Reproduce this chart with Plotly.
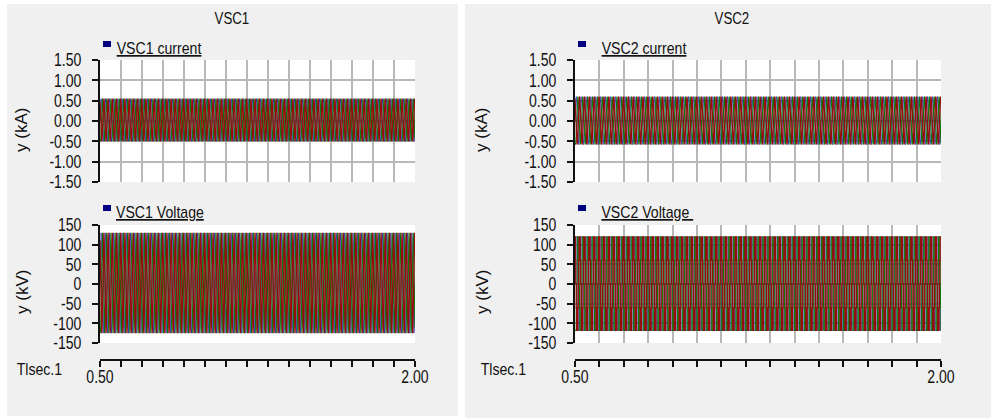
import numpy as np
import plotly.graph_objects as go

W, H = 991, 418

# ---------------- data ----------------
t_start, t_end = 0.5, 2.0
n_cycles = 75  # 50 Hz over 1.5 s

vsc1_current_a = [0.02, 0.29, 0.48, 0.55, 0.47, 0.26, -0.02, -0.28, -0.45, -0.50, -0.44, -0.25]
vsc1_current_b = [-0.45, -0.50, -0.44, -0.25, 0.02, 0.29, 0.48, 0.55, 0.47, 0.26, -0.02, -0.28]
vsc1_current_c = [0.47, 0.26, -0.02, -0.28, -0.45, -0.50, -0.44, -0.25, 0.02, 0.29, 0.48, 0.55]

vsc2_current_a = [0.00, 0.32, 0.55, 0.60, 0.55, 0.30, 0.00, -0.31, -0.54, -0.58, -0.53, -0.30]
vsc2_current_b = [-0.54, -0.58, -0.53, -0.30, 0.00, 0.32, 0.55, 0.60, 0.55, 0.30, 0.00, -0.31]
vsc2_current_c = [0.55, 0.30, 0.00, -0.31, -0.54, -0.58, -0.53, -0.30, 0.00, 0.32, 0.55, 0.60]

vsc1_voltage_a = [0, 65, 112, 130, 111, 63, 0, -63, -110, -125, -109, -62]
vsc1_voltage_b = [-110, -125, -109, -62, 0, 65, 112, 130, 111, 63, 0, -63]
vsc1_voltage_c = [111, 63, 0, -63, -110, -125, -109, -62, 0, 65, 112, 130]

vsc2_voltage_a = [0, 60, 120, 120, 120, 60, 0, -60, -118, -118, -118, -60]
vsc2_voltage_b = [-118, -118, -118, -60, 0, 60, 120, 120, 120, 60, 0, -60]
vsc2_voltage_c = [120, 60, 0, -60, -118, -118, -118, -60, 0, 60, 120, 120]

x_tick_values = [0.5, 0.6, 0.7, 0.8, 0.9, 1.0, 1.1, 1.2, 1.3, 1.4, 1.5, 1.6, 1.7, 1.8, 1.9, 2.0]
x_tick_labels = ["0.50"] + [""] * 14 + ["2.00"]
current_tick_values = [-1.5, -1.0, -0.5, 0.0, 0.5, 1.0, 1.5]
current_tick_labels = ["-1.50", "-1.00", "-0.50", "0.00", "0.50", "1.00", "1.50"]
voltage_tick_values = [-150, -100, -50, 0, 50, 100, 150]
voltage_tick_labels = ["-150", "-100", "-50", "0", "50", "100", "150"]

panel_titles = ["VSC1", "VSC2"]
legend_names = ["VSC1 current", "VSC1 Voltage", "VSC2 current", "VSC2 Voltage"]
time_label = "Tlsec.1"
current_unit = "y (kA)"
voltage_unit = "y (kV)"

# ---------------- helpers ----------------
def X(px):
    return px / W

def Y(py):
    return 1 - py / H

def wave(cycle):
    arr = np.tile(np.array(cycle, dtype=float), n_cycles)
    arr = np.append(arr, cycle[0])
    t = np.linspace(t_start, t_end, len(arr))
    return t, arr

FONT = "Liberation Sans, Arial, sans-serif"
BLUE, GREEN, RED = "#1818a0", "#0a7a0a", "#960c0c"
WIDTHS = [0.7, 1.1, 1.3]
GRID = "#b8b8b8"
PANEL = "#f0f0f0"
INK = "#111111"

fig = go.Figure()

plots = [
    ("x", "y", [vsc1_current_a, vsc1_current_b, vsc1_current_c], "linear"),
    ("x2", "y2", [vsc1_voltage_a, vsc1_voltage_b, vsc1_voltage_c], "linear"),
    ("x3", "y3", [vsc2_current_a, vsc2_current_b, vsc2_current_c], "linear"),
    ("x4", "y4", [vsc2_voltage_a, vsc2_voltage_b, vsc2_voltage_c], "hv"),
]
for xa, ya, phases, shape in plots:
    for cyc, col, lw in zip(phases, [BLUE, GREEN, RED], WIDTHS):
        t, v = wave(cyc)
        fig.add_trace(go.Scatter(x=t, y=v, mode="lines", xaxis=xa, yaxis=ya,
                                 line=dict(color=col, width=lw, shape=shape),
                                 showlegend=False, hoverinfo="skip"))

# geometry (pixels)
L_X = (100, 415)
R_X = (575, 941)
CUR_Y = (60, 182)
VOL_Y = (225, 343)
XAXIS_Y = 360

tickfont = dict(family=FONT, size=18, color=INK)

def xaxis_top(dom):
    return dict(domain=[X(dom[0]), X(dom[1])], range=[t_start, t_end],
                tickvals=x_tick_values, showticklabels=False, ticks="",
                showgrid=True, gridcolor=GRID, gridwidth=1.5, zeroline=False,
                showline=False, automargin=False)

def xaxis_bottom(dom, grid):
    return dict(domain=[X(dom[0]), X(dom[1])], range=[t_start, t_end],
                tickvals=x_tick_values, ticktext=x_tick_labels,
                ticks="outside", ticklen=6, tickwidth=1.5, tickcolor=INK,
                showline=True, linecolor=INK, linewidth=2,
                anchor="free", position=Y(XAXIS_Y),
                showgrid=grid, gridcolor=GRID, gridwidth=1.5, zeroline=False,
                tickfont=tickfont, tickangle=0, ticklabelstandoff=-6, automargin=False)

def yaxis(dom, anchor_x, rng, vals, labels, grid):
    return dict(domain=[Y(dom[1]), Y(dom[0])], range=rng, anchor=anchor_x,
                tickvals=vals, ticktext=labels, ticks="outside", ticklen=6,
                tickwidth=1.5, tickcolor=INK,
                showline=True, linecolor=INK, linewidth=2,
                showgrid=grid, gridcolor=GRID, gridwidth=1.5, zeroline=False,
                tickfont=tickfont, ticklabelstandoff=7, automargin=False)

fig.update_layout(
    width=W, height=H, margin=dict(l=0, r=0, t=0, b=0, autoexpand=False),
    paper_bgcolor=PANEL, plot_bgcolor="white",
    xaxis=xaxis_top(L_X),
    yaxis=yaxis(CUR_Y, "x", [-1.5, 1.5], current_tick_values, current_tick_labels, True),
    xaxis2=xaxis_bottom(L_X, False),
    yaxis2=yaxis(VOL_Y, "x2", [-150, 150], voltage_tick_values, voltage_tick_labels, False),
    xaxis3=xaxis_top(R_X),
    yaxis3=yaxis(CUR_Y, "x3", [-1.5, 1.5], current_tick_values, current_tick_labels, True),
    xaxis4=xaxis_bottom(R_X, True),
    yaxis4=yaxis(VOL_Y, "x4", [-150, 150], voltage_tick_values, voltage_tick_labels, True),
)

# white page margins / gap between the two panels
shapes = []
for x0, y0, x1, y1 in [(0, 0, 7, 418), (0, 0, 991, 4), (458, 0, 465, 418), (0, 416, 465, 418)]:
    shapes.append(dict(type="rect", xref="paper", yref="paper",
                       x0=X(x0), x1=X(x1), y0=Y(y1), y1=Y(y0),
                       fillcolor="white", line=dict(width=0), layer="below"))
# legend squares
for x0, y0 in [(103, 41), (103, 205), (578, 41), (578, 205)]:
    shapes.append(dict(type="rect", xref="paper", yref="paper",
                       x0=X(x0), x1=X(x0 + 8), y0=Y(y0 + 6), y1=Y(y0),
                       fillcolor="#000080", line=dict(width=0), layer="above"))
fig.update_layout(shapes=shapes)

ann = []
for txt, cx in zip(panel_titles, [232, 732]):
    ann.append(dict(text=txt, x=X(cx), y=Y(19), xref="paper", yref="paper",
                    xanchor="center", yanchor="middle", showarrow=False,
                    font=dict(family=FONT, size=16, color=INK)))
legend_pos = [(159, 48), (160, 212), (644, 48), (647, 212)]
for i, (txt, (lx, ly)) in enumerate(zip(legend_names, legend_pos)):
    shown = txt + ("\u00a0" if i == 3 else "")
    ann.append(dict(text="<u>" + shown + "</u>", x=X(lx), y=Y(ly), xref="paper", yref="paper",
                    xanchor="center", yanchor="middle", showarrow=False,
                    font=dict(family=FONT, size=17, color=INK)))
for txt, (cx, cy) in [(current_unit, (22, 130)), (voltage_unit, (22, 292)),
                      (current_unit, (482, 130)), (voltage_unit, (482, 292))]:
    ann.append(dict(text=txt, x=X(cx), y=Y(cy), xref="paper", yref="paper",
                    xanchor="center", yanchor="middle", showarrow=False, textangle=-90,
                    font=dict(family=FONT, size=17, color=INK)))
for cx in [39, 503]:
    ann.append(dict(text=time_label, x=X(cx), y=Y(369), xref="paper", yref="paper",
                    xanchor="center", yanchor="middle", showarrow=False,
                    font=dict(family=FONT, size=17, color=INK)))
fig.update_layout(annotations=ann)

# condense the text horizontally (narrow typeface look) while keeping it as real text
post = """
var gd = document.getElementById('{plot_id}');
function condense(sel, f){
  gd.querySelectorAll(sel).forEach(function(t){
    if (t.textContent.indexOf('y (') === 0) return;
    t.removeAttribute('textLength');
    t.removeAttribute('lengthAdjust');
    var L = t.getComputedTextLength();
    if (L > 0) {
      t.setAttribute('textLength', (L * f).toFixed(2));
      t.setAttribute('lengthAdjust', 'spacingAndGlyphs');
    }
  });
}
function condenseAll(){
  condense('.xaxislayer-above text, .yaxislayer-above text', 0.78);
  condense('.annotation-text', 0.83);
}
condenseAll();
if (gd.on) { gd.on('plotly_afterplot', condenseAll); }
[0, 50, 200, 600].forEach(function(d){ setTimeout(condenseAll, d); });
"""
fig.write_html("out.html", post_script=post)
